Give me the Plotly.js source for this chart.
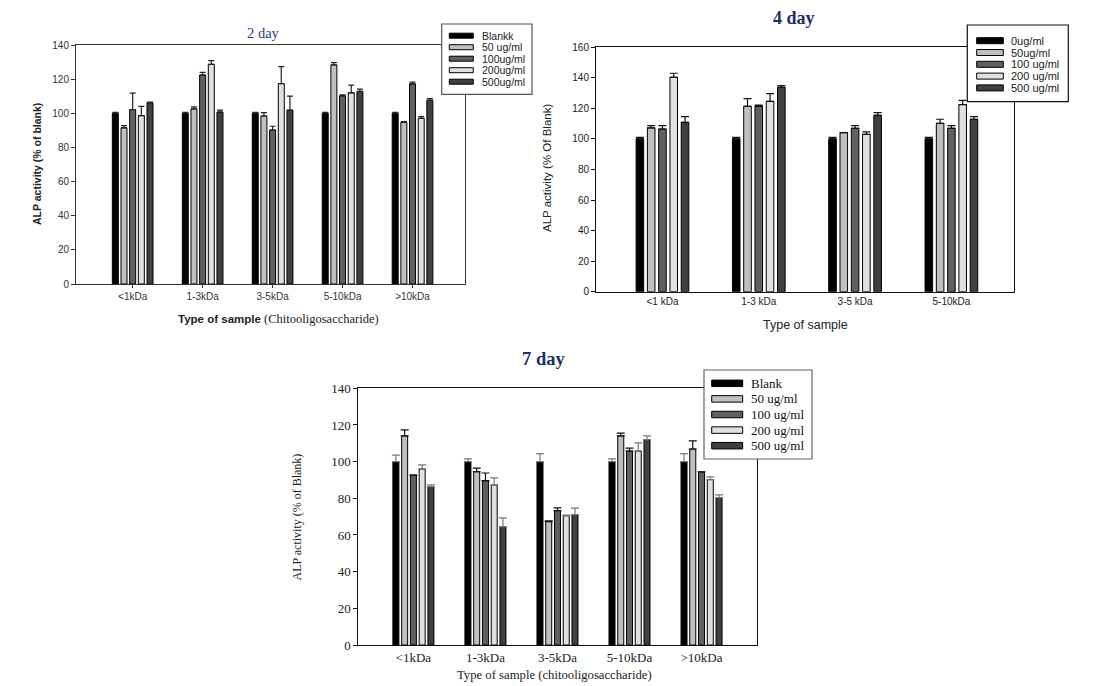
<!DOCTYPE html>
<html>
<head>
<meta charset="utf-8">
<script src="https://cdn.plot.ly/plotly-3.0.1.min.js"></script>
<style>html,body{margin:0;padding:0;background:#fff;}#chart{width:1118px;height:686px;}</style>
</head>
<body>
<div id="chart"></div>
<script>
// ---------- DATA ----------
// Day 2
const day2Categories = ['<1kDa', '1-3kDa', '3-5kDa', '5-10kDa', '>10kDa'];
const day2Series = ['Blankk', '50 ug/ml', '100ug/ml', '200ug/ml', '500ug/ml'];
const day2Blank = [100, 100, 100, 100, 100];
const day2C50 = [91.5, 102.6, 98.4, 128.3, 94.8];
const day2C100 = [102.2, 122.4, 90.2, 110.2, 117.2];
const day2C200 = [98.6, 128.7, 117.4, 112.0, 97.0];
const day2C500 = [106.2, 100.7, 101.8, 112.8, 107.6];
const day2ErrBlank = [0.5, 0.5, 0.5, 0.5, 0.5];
const day2Err50 = [1.3, 1.1, 2.0, 1.4, 0.3];
const day2Err100 = [9.6, 1.6, 2.2, 0.6, 1.0];
const day2Err200 = [5.4, 2.1, 9.9, 4.5, 1.1];
const day2Err500 = [0.3, 1.2, 8.2, 1.3, 1.0];

// Day 4
const day4Categories = ['<1 kDa', '1-3 kDa', '3-5 kDa', '5-10kDa'];
const day4Series = ['0ug/ml', '50ug/ml', '100 ug/ml', '200 ug/ml', '500 ug/ml'];
const day4Blank = [100, 100, 100, 100];
const day4C50 = [107.2, 121.4, 104.1, 110.2];
const day4C100 = [106.5, 121.4, 107.0, 107.0];
const day4C200 = [140.4, 124.6, 103.0, 122.5];
const day4C500 = [110.9, 133.8, 115.5, 112.9];
const day4ErrBlank = [1.0, 1.0, 1.0, 1.0];
const day4Err50 = [1.5, 5.0, 0.0, 2.7];
const day4Err100 = [2.2, 0.8, 1.7, 1.7];
const day4Err200 = [2.6, 5.1, 1.6, 2.8];
const day4Err500 = [3.7, 1.1, 1.7, 1.7];

// Day 7
const day7Categories = ['<1kDa', '1-3kDa', '3-5kDa', '5-10kDa', '>10kDa'];
const day7Series = ['Blank', '50 ug/ml', '100 ug/ml', '200 ug/ml', '500 ug/ml'];
const day7Blank = [100, 100, 100, 100, 100];
const day7C50 = [114.0, 94.5, 67.3, 114.0, 106.9];
const day7C100 = [92.7, 89.6, 73.3, 105.8, 94.4];
const day7C200 = [96.0, 87.3, 70.5, 105.8, 90.2];
const day7C500 = [86.4, 64.6, 71.1, 112.0, 80.4];
const day7ErrBlank = [3.6, 1.5, 4.4, 1.5, 4.4];
const day7Err50 = [3.3, 2.0, 0.4, 1.6, 4.4];
const day7Err100 = [0.0, 4.2, 1.5, 1.6, 0.0];
const day7Err200 = [2.2, 3.8, 0.4, 4.4, 1.5];
const day7Err500 = [0.9, 4.7, 3.6, 2.0, 1.5];

// ---------- STYLE ----------
const W = 1118, H = 686;
const px = x => x / W;
const py = y => 1 - y / H;
const SANS = 'Liberation Sans, Arial, sans-serif';
const SERIF = 'Liberation Serif, Times New Roman, serif';
const fills = ['#000000', '#c0c0c0', '#606060', '#e0e0e0', '#404040'];

const charts = [
  {
    cats: day2Categories, names: day2Series,
    vals: [day2Blank, day2C50, day2C100, day2C200, day2C500],
    errs: [day2ErrBlank, day2Err50, day2Err100, day2Err200, day2Err500],
    errColors: ['#222', '#222', '#222', '#222', '#222'], capW: 3,
    pitch: 0.1239, barW: 0.0857,
    box: [76, 465, 45, 284], xrange: [-0.81, 4.75], yrange: [0, 140], dtick: 20,
    axisColor: '#333', tickFont: {family: SANS, size: 10, color: '#333'}, xticks: 'outside',
    title: {text: '2 day', x: 263, y: 32.5, font: {family: SERIF, size: 14.5, color: '#23408a'}},
    ytitle: {text: '<b>ALP activity (% of blank)</b>', x: 37, y: 164, font: {family: SANS, size: 10.5, color: '#222'}},
    xtitle: {text: '<b>Type of sample</b> <span style="font-family:Liberation Serif, serif;font-size:12.5px">(Chitooligosaccharide)</span>', x: 278, y: 319.5, font: {family: SANS, size: 11.5, color: '#222'}},
    legend: {box: [441.7, 532, 24, 94.3], border: '#555', sx: [449.3, 473.3], y0: 35.7, dy: 11.5, sh: 5, tx: 480, font: {family: SANS, size: 10.5, color: '#222'}}
  },
  {
    cats: day4Categories, names: day4Series,
    vals: [day4Blank, day4C50, day4C100, day4C200, day4C500],
    errs: [day4ErrBlank, day4Err50, day4Err100, day4Err200, day4Err500],
    errColors: ['#111', '#111', '#111', '#111', '#111'], capW: 4,
    pitch: 0.1171, barW: 0.0788,
    box: [596, 1014, 47.3, 291.7], xrange: [-0.69, 3.65], yrange: [0, 160], dtick: 20,
    axisColor: '#111', tickFont: {family: SANS, size: 10, color: '#222'}, xticks: '',
    title: {text: '<b>4 day</b>', x: 794, y: 18, font: {family: SERIF, size: 18, color: '#1b2f6b'}},
    ytitle: {text: 'ALP activity (% Of Blank)', x: 547, y: 168, font: {family: SANS, size: 11.5, color: '#222'}},
    xtitle: {text: 'Type of sample', x: 805, y: 325, font: {family: SANS, size: 12.5, color: '#222'}},
    legend: {box: [967.3, 1068.3, 25, 101.7], border: '#111', sx: [976.7, 1003.3], y0: 40.7, dy: 11.8, sh: 6, tx: 1009.3, font: {family: SANS, size: 11, color: '#222'}}
  },
  {
    cats: day7Categories, names: day7Series,
    vals: [day7Blank, day7C50, day7C100, day7C200, day7C500],
    errs: [day7ErrBlank, day7Err50, day7Err100, day7Err200, day7Err500],
    errColors: ['#777', '#111', '#111', '#777', '#777'], capW: 4,
    pitch: 0.1215, barW: 0.0833,
    box: [358.3, 757, 388.3, 645], xrange: [-0.765, 4.77], yrange: [0, 140], dtick: 20,
    axisColor: '#111', tickFont: {family: SERIF, size: 13, color: '#222'}, xticks: '',
    title: {text: '<b>7 day</b>', x: 543, y: 359, font: {family: SERIF, size: 18.5, color: '#1b2f6b'}},
    ytitle: {text: 'ALP activity (% of Blank)', x: 296.5, y: 517, font: {family: SERIF, size: 12, color: '#222'}},
    xtitle: {text: 'Type of sample (chitooligosaccharide)', x: 554, y: 675, font: {family: SERIF, size: 12.7, color: '#222'}},
    legend: {box: [704, 812, 370, 459], border: '#666', sx: [711.7, 742.7], y0: 383.3, dy: 15.6, sh: 6.5, tx: 749.3, font: {family: SERIF, size: 13, color: '#111'}}
  }
];

const traces = [];
const shapes = [];
const annotations = [];
const layout = {
  width: W, height: H,
  margin: {l: 0, r: 0, t: 0, b: 0, pad: 0},
  paper_bgcolor: '#ffffff', plot_bgcolor: '#ffffff',
  showlegend: false, barmode: 'overlay'
};

charts.forEach((c, ci) => {
  const sfx = ci === 0 ? '' : String(ci + 1);
  const xa = 'x' + sfx, ya = 'y' + sfx;
  const n = c.vals.length;
  c.vals.forEach((v, si) => {
    traces.push({
      type: 'bar', x: c.cats, y: v, name: c.names[si],
      xaxis: xa, yaxis: ya,
      width: c.barW,
      offset: (si - (n - 1) / 2) * c.pitch - c.barW / 2,
      marker: {color: fills[si], line: {color: '#000', width: 1}},
      error_y: {type: 'data', symmetric: false, array: c.errs[si], arrayminus: c.errs[si].map(() => 0),
        color: c.errColors[si], thickness: 1.2, width: c.capW},
      hoverinfo: 'x+y+name'
    });
  });
  const [l, r, t, b] = c.box;
  layout['xaxis' + sfx] = {
    domain: [px(l), px(r)], anchor: ya, type: 'category', range: c.xrange,
    showline: true, linecolor: c.axisColor, linewidth: 1, mirror: true,
    ticks: c.xticks, ticklen: 3, tickcolor: c.axisColor,
    showgrid: false, zeroline: false, tickfont: c.tickFont, fixedrange: true
  };
  layout['yaxis' + sfx] = {
    domain: [py(b), py(t)], anchor: xa, range: c.yrange, dtick: c.dtick,
    showline: true, linecolor: c.axisColor, linewidth: 1, mirror: true,
    ticks: 'outside', ticklen: 4, tickcolor: c.axisColor,
    showgrid: false, zeroline: false, tickfont: c.tickFont, fixedrange: true
  };
  // titles
  annotations.push({xref: 'paper', yref: 'paper', x: px(c.title.x), y: py(c.title.y), text: c.title.text,
    showarrow: false, xanchor: 'center', yanchor: 'middle', font: c.title.font});
  annotations.push({xref: 'paper', yref: 'paper', x: px(c.ytitle.x), y: py(c.ytitle.y), text: c.ytitle.text,
    showarrow: false, xanchor: 'center', yanchor: 'middle', textangle: -90, font: c.ytitle.font});
  annotations.push({xref: 'paper', yref: 'paper', x: px(c.xtitle.x), y: py(c.xtitle.y), text: c.xtitle.text,
    showarrow: false, xanchor: 'center', yanchor: 'middle', font: c.xtitle.font});
  // legend box
  const L = c.legend;
  shapes.push({type: 'rect', xref: 'paper', yref: 'paper', layer: 'above',
    x0: px(L.box[0]), x1: px(L.box[1]), y0: py(L.box[3]), y1: py(L.box[2]),
    fillcolor: '#ffffff', line: {color: L.border, width: 1.2}});
  c.names.forEach((nm, si) => {
    const cy = L.y0 + si * L.dy;
    shapes.push({type: 'rect', xref: 'paper', yref: 'paper', layer: 'above',
      x0: px(L.sx[0]), x1: px(L.sx[1]), y0: py(cy + L.sh / 2), y1: py(cy - L.sh / 2),
      fillcolor: fills[si], line: {color: '#000', width: 1}});
    annotations.push({xref: 'paper', yref: 'paper', x: px(L.tx), y: py(cy), text: nm,
      showarrow: false, xanchor: 'left', yanchor: 'middle', font: L.font});
  });
});

layout.shapes = shapes;
layout.annotations = annotations;

Plotly.newPlot('chart', traces, layout, {displayModeBar: false, responsive: false, staticPlot: false});
</script>
</body>
</html>
